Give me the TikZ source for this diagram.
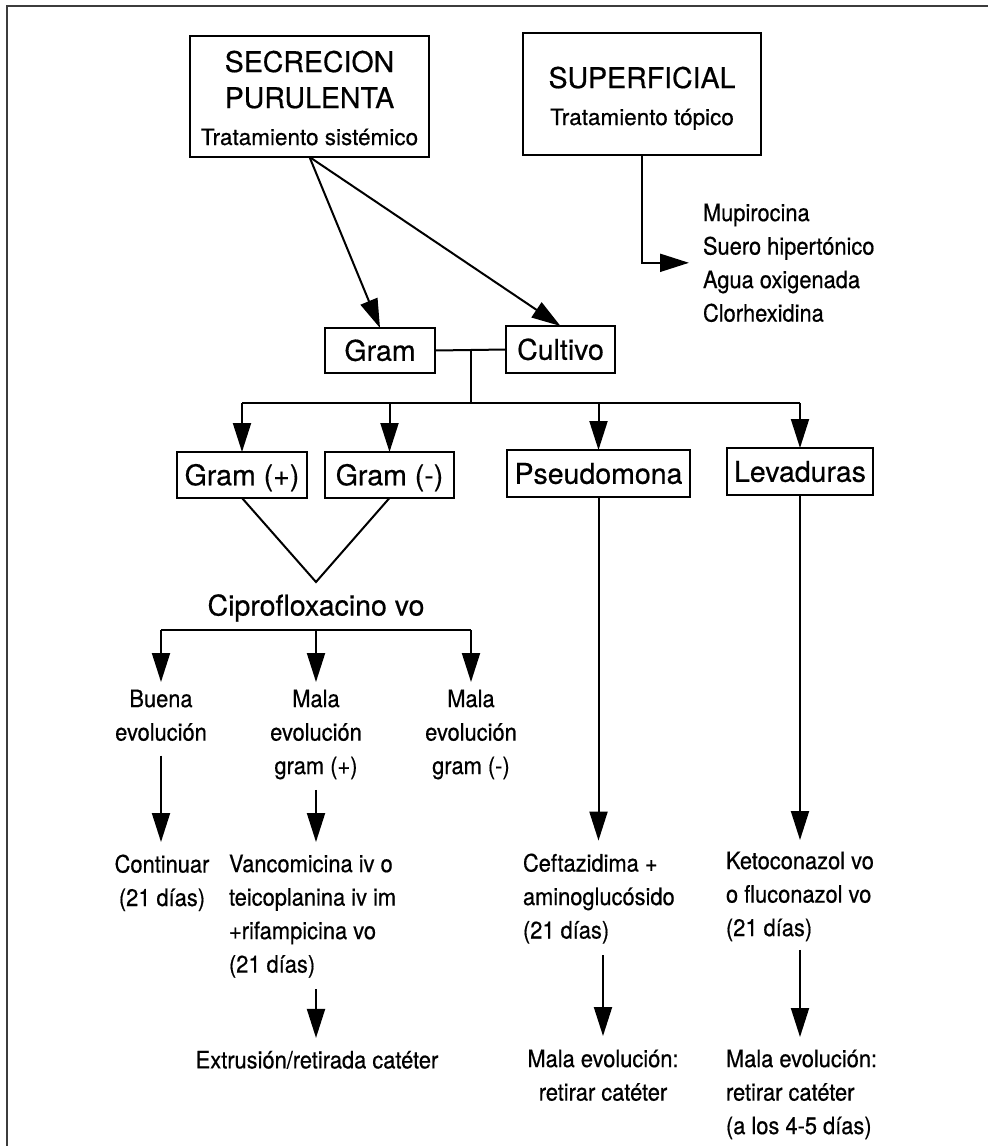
\documentclass[tikz,border=0pt]{standalone}
\usepackage{fontspec}
\setmainfont[FakeBold=0.5]{TeX Gyre Heros}
\newfontfamily\condfont[FakeStretch=0.91,FakeBold=0.5]{TeX Gyre Heros}
\usetikzlibrary{arrows.meta,calc}
\definecolor{framegray}{HTML}{3C3C3C}
\begin{document}
\begin{tikzpicture}[x=1pt,y=-1pt,
  every node/.style={inner sep=0pt, outer sep=0pt},
  box/.style={draw, line width=2pt, font=\fontsize{28.5}{34}\selectfont, text height=20.5pt, text depth=0pt},
  conn/.style={line width=2pt},
  arr/.style={conn, -{Triangle[length=29pt,width=18pt]}},
  big/.style={font=\fontsize{28.5}{36}\selectfont},
  mid/.style={font=\fontsize{22.5}{27}\selectfont},
  small/.style={font=\condfont\fontsize{24}{33.5}\selectfont},
  ]
\fill[white] (0,0) rectangle (988,1146);
\useasboundingbox (0,0) rectangle (988,1146);
\draw[line width=2.5pt, framegray] (988,6) -- (7,6) -- (7,1146);

% top boxes
\node[box, minimum width=239, minimum height=121] (sec) at (309.5,96.5) {};
\node[big, anchor=base] (secA) at (309.5,72) {SECRECION};
\node[big, anchor=base] (secB) at (309.5,108) {PURULENTA};
\node[mid, anchor=base] (secC) at (309.5,145) {Tratamiento sistémico};

\node[box, minimum width=238, minimum height=122] (sup) at (642,94) {};
\node[big, anchor=base] (supA) at (642,88) {SUPERFICIAL};
\node[mid, anchor=base] (supB) at (642,125) {Tratamiento tópico};

\node[small, align=left, anchor=north west] (list) at (703,203.6)
  {Mupirocina\\Suero hipertónico\\Agua oxigenada\\Clorhexidina};
\draw[arr, shorten >=14pt] (sup.south) |- (list.west);

% Gram / Cultivo
\node[box, minimum width=110, minimum height=45] (gram) at (380,350.5) {Gram};
\node[box, minimum width=109, minimum height=47] (cult) at (560.5,349.5) {Cultivo};
\draw[arr] (sec.south) -- (gram.north);
\draw[arr] (sec.south) -- (cult.north);
\draw[conn] (gram.east) -- (cult.west);
\coordinate (j1) at ($(gram.east)!0.5!(cult.west)$);
\coordinate (j2) at (470,403);

% second row of boxes
\node[box, minimum width=130, minimum height=46] (gpos) at (242,475) {Gram (+)};
\node[box, minimum width=129, minimum height=46] (gneg) at (389.5,475) {Gram (-)};
\node[box, minimum width=183, minimum height=47] (pseu) at (598.5,473.5) {Pseudomona};
\node[box, minimum width=146, minimum height=47] (lev) at (800,471.5) {Levaduras};

\draw[conn] (j1) -- (j1 |- j2);
\draw[conn] (gpos.north |- j2) -- (lev.north |- j2);
\draw[arr] (gpos.north |- j2) -- (gpos.north);
\draw[arr] (gneg.north |- j2) -- (gneg.north);
\draw[arr] (pseu.north |- j2) -- (pseu.north);
\draw[arr] (lev.north |- j2) -- (lev.north);

% V to ciprofloxacino
\coordinate (apex) at (316,582);
\draw[conn] (gpos.south) -- (apex) -- (gneg.south);
\node[big, anchor=base] (cipro) at (316,615.5) {Ciprofloxacino vo};

% evolution row
\node[small, align=center, anchor=north] (buena) at (161,689.6) {Buena\\evolución};
\node[small, align=center, anchor=north] (malap) at (316,689.6) {Mala\\evolución\\gram (+)};
\node[small, align=center, anchor=north] (malan) at (471,689.6) {Mala\\evolución\\gram (-)};
\coordinate (j3) at (316,630);
\draw[conn] (buena.north |- j3) -- (malan.north |- j3);
\draw[arr, shorten >=7.6pt] (buena.north |- j3) -- (buena.north);
\draw[arr, shorten >=7.6pt] (malap.north |- j3) -- (malap.north);
\draw[arr, shorten >=7.6pt] (malan.north |- j3) -- (malan.north);

% treatments
\node[small, align=center, anchor=north] (cont) at (162,854.6) {Continuar\\(21 días)};
\node[small, align=left, anchor=north west] (vanco) at (229,854.6)
  {Vancomicina iv o\\teicoplanina iv im\\+rifampicina vo\\(21 días)};
\node[small, anchor=base] (ext) at (317,1068.4) {Extrusión/retirada catéter};

\node[small, align=left, anchor=north west] (ceft) at (523,853.6)
  {Ceftazidima +\\aminoglucósido\\(21 días)};
\node[small, align=center, anchor=north] (mala1) at (603,1049.6)
  {Mala evolución:\\retirar catéter};

\node[small, align=left, anchor=north west] (keto) at (726,851.6)
  {Ketoconazol vo\\o fluconazol vo\\(21 días)};
\node[small, align=left, anchor=north west] (mala2) at (726,1049.6)
  {Mala evolución:\\retirar catéter\\(a los 4-5 días)};

\draw[arr, shorten <=14.6pt, shorten >=12.6pt] (buena.south) -- (buena.south |- cont.north);
\draw[arr, shorten <=10.6pt, shorten >=12.6pt] (malap.south) -- (malap.south |- vanco.north);
\draw[arr, shorten <=11.6pt, shorten >=13pt] (malap.south |- vanco.south) -- (malap.south |- ext.north);
\draw[arr, shorten >=13pt] (pseu.south) -- (pseu.south |- ceft.north);
\draw[arr, shorten <=11.6pt, shorten >=13.6pt] (mala1.north |- ceft.south) -- (mala1.north);
\draw[arr, shorten >=11.6pt] (lev.south) -- (lev.south |- keto.north);
\draw[arr, shorten <=8.6pt, shorten >=12.6pt] (lev.south |- keto.south) -- (lev.south |- mala2.north);
\end{tikzpicture}
\end{document}
